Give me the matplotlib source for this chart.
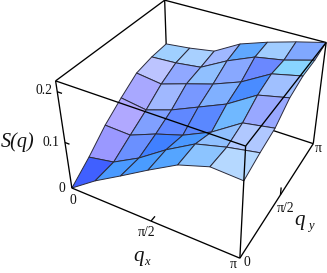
"""Perspective surface plot of S(q) over the (q_x, q_y) zone."""
import numpy as np
import matplotlib
matplotlib.use("Agg")
import matplotlib.pyplot as plt
from matplotlib.colors import to_rgba
from mpl_toolkits.mplot3d.art3d import Line3DCollection

W, H = 327, 273
ZTOP = 0.22

# surface height, rows run along q_y, columns along q_x
qx = [0, np.pi/6, np.pi/3, np.pi/2, 2*np.pi/3, 5*np.pi/6, np.pi]
qy = [0, np.pi/6, np.pi/3, np.pi/2, 2*np.pi/3, 5*np.pi/6, np.pi]
s_q = [
    [0.000, 0.040, 0.074, 0.109, 0.142, 0.161, 0.158],
    [0.030, 0.041, 0.072, 0.111, 0.144, 0.159, 0.170],
    [0.065, 0.063, 0.086, 0.104, 0.131, 0.169, 0.179],
    [0.092, 0.084, 0.103, 0.128, 0.153, 0.189, 0.202],
    [0.116, 0.109, 0.127, 0.144, 0.166, 0.199, 0.212],
    [0.123, 0.126, 0.133, 0.163, 0.187, 0.197, 0.213],
    [0.125, 0.131, 0.140, 0.171, 0.190, 0.206, 0.220],
]
cell_colors = [
    ["#4060ff", "#4a9aff", "#4a9cff", "#55a5ff", "#8cc4ff", "#b5d8ff"],
    ["#9a98ff", "#6a90ff", "#4080ff", "#4a98ff", "#90c0ff", "#b0c8ff"],
    ["#b0a8ff", "#80a0ff", "#6088ff", "#5a88ff", "#70b8ff", "#98a8ff"],
    ["#a8a8ff", "#a0b8ff", "#7898ff", "#80b0ff", "#4a8cff", "#a0c0ff"],
    ["#bcc4ff", "#90a8ff", "#90c0ff", "#88a8ff", "#6a88ff", "#88d4ff"],
    ["#a0d0ff", "#a8d0ff", "#a0b8ff", "#60a8ff", "#a0ccff", "#80a8ff"],
]

# camera: where the corners of the unit box land on the page
box_anchors = [
    (0, 0, 0, 72, 188), (1, 0, 0, 240, 258), (1, 1, 0, 313, 145), (0, 1, 0, 168, 95),
    (0, 0, 1, 55, 82), (1, 0, 1, 246, 145), (1, 1, 1, 326, 42), (0, 1, 1, 165, 0.5),
]


def camera_matrix():
    rows = []
    for x, y, z, u, v in box_anchors:
        rows.append([x, y, z, 1, 0, 0, 0, 0, -u*x, -u*y, -u*z, -u])
        rows.append([0, 0, 0, 0, x, y, z, 1, -v*x, -v*y, -v*z, -v])
    p = np.linalg.svd(np.array(rows, float))[2][-1].reshape(3, 4)
    p = p @ np.diag([1/np.pi, 1/np.pi, 1/ZTOP, 1])
    if p[2] @ [np.pi/2, np.pi/2, ZTOP/2, 1] < 0:
        p = -p
    # depth row: -1/w grows away from the viewer
    return np.array([p[0], H*p[2] - p[1], [0, 0, 0, -1], p[2]])


M = camera_matrix()

fig = plt.figure(figsize=(W/100, H/100), dpi=100)
ax = fig.add_axes([0, 0, 1, 1], projection="3d", computed_zorder=False)
ax.set_axis_off()
ax.apply_aspect = lambda position=None: None
ax.get_proj = lambda: M

X, Y = np.meshgrid(qx, qy)
Z = np.array(s_q)
colors = np.array([[to_rgba(c) for c in row] for row in cell_colors])
surf = ax.plot_surface(X, Y, Z, facecolors=colors, rstride=1, cstride=1, shade=False,
                       antialiased=True, linewidth=0.7, zorder=2)
surf.set_edgecolor("#2a2a3a")

PI = np.pi
# box edges hidden by the surface go below it
back_edges = [
    [(0, 0, 0), (0, PI, 0)], [(0, PI, 0), (PI, PI, 0)], [(0, PI, 0), (0, PI, ZTOP)],
    [(0, 0, ZTOP), (0, PI, ZTOP)], [(0, PI, ZTOP), (PI, PI, ZTOP)],
]
front_edges = [
    [(0, 0, 0), (PI, 0, 0)], [(PI, 0, 0), (PI, PI, 0)],
    [(0, 0, 0), (0, 0, ZTOP)], [(PI, 0, 0), (PI, 0, ZTOP)], [(PI, PI, 0), (PI, PI, ZTOP)],
    [(0, 0, ZTOP), (PI, 0, ZTOP)], [(PI, 0, ZTOP), (PI, PI, ZTOP)],
]
ticks = [
    [(0, 0, 0.1), (0.09, 0, 0.1)], [(0, 0, 0.2), (0.09, 0, 0.2)],
    [(PI/2, 0, 0), (PI/2, 0.12, 0)], [(PI, PI/2, 0), (PI, PI/2, 0.017)],
]
ax.add_collection3d(Line3DCollection(back_edges, colors="black", linewidths=0.95, zorder=1), autolim=False)
ax.add_collection3d(Line3DCollection(front_edges + ticks, colors="black", linewidths=0.95, zorder=3), autolim=False)
for coll in ax.collections:
    coll.set_clip_on(False)

ax.viewLim.intervalx = (0, W)
ax.viewLim.intervaly = (0, H)

serif = "Liberation Serif"


def label(px, py, text, size=9.8, style="normal"):
    fig.text(px/W, 1 - py/H, text, family=serif, fontsize=size, style=style,
             ha="center", va="center", color="#111111")


label(44, 91, "0.2")
label(51, 143, "0.1")
label(62, 189, "0")
label(73, 200, "0")
label(147, 233, "π/2")
label(233, 265, "π")
label(247, 262, "0")
label(286, 209, "π/2")
label(318, 149, "π")
label(18, 142, "S(q)", size=14.5, style="italic")
label(139, 256, "q", size=15, style="italic")
label(147, 262, "x", size=9, style="italic")
label(300, 220, "q", size=15, style="italic")
label(311, 226, "y", size=9, style="italic")

fig.savefig("out.png", dpi=100)
